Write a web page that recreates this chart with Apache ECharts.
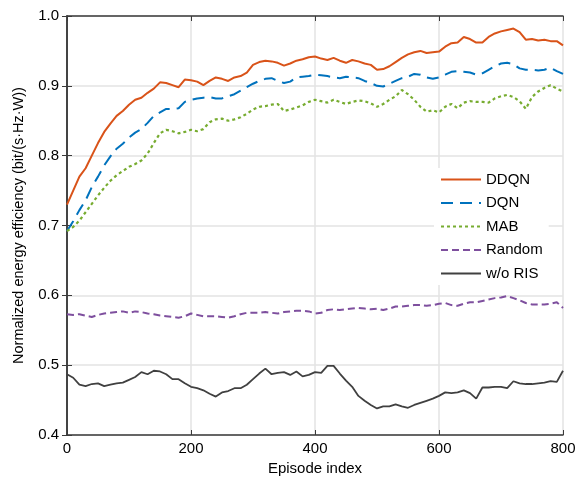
<!DOCTYPE html>
<html lang="en">
<head>
<meta charset="UTF-8">
<title>Energy efficiency</title>
<script src="https://cdn.jsdelivr.net/npm/echarts@6/dist/echarts.min.js"></script>
<style>
  html, body { margin: 0; padding: 0; background: #fff; }
  #container { width: 579px; height: 482px; }
</style>
</head>
<body>
<div id="container"></div>
<script>
// episodes 0..800 every 10
var episodes = [];
for (var i = 0; i <= 80; i++) episodes.push(i * 10);

var ddqn = [0.730,0.750,0.770,0.782,0.800,0.818,0.834,0.846,0.857,0.864,
  0.873,0.880,0.883,0.890,0.896,0.905,0.904,0.901,0.898,0.909,
  0.908,0.906,0.901,0.907,0.912,0.910,0.907,0.912,0.914,0.919,
  0.930,0.934,0.936,0.935,0.933,0.929,0.932,0.936,0.938,0.941,
  0.942,0.939,0.937,0.940,0.936,0.933,0.937,0.935,0.932,0.930,
  0.923,0.924,0.928,0.934,0.940,0.945,0.948,0.950,0.947,0.948,
  0.949,0.956,0.961,0.962,0.970,0.967,0.962,0.962,0.970,0.975,
  0.978,0.980,0.982,0.977,0.966,0.967,0.965,0.966,0.964,0.964,0.958];

var dqn = [0.692,0.706,0.722,0.736,0.755,0.770,0.786,0.799,0.810,0.817,
  0.826,0.833,0.838,0.847,0.857,0.862,0.867,0.867,0.868,0.877,
  0.880,0.882,0.883,0.884,0.882,0.882,0.885,0.888,0.893,0.898,
  0.903,0.907,0.910,0.911,0.907,0.904,0.906,0.912,0.913,0.914,
  0.916,0.915,0.914,0.912,0.911,0.913,0.912,0.911,0.907,0.904,
  0.900,0.899,0.903,0.907,0.911,0.913,0.917,0.916,0.912,0.910,
  0.912,0.916,0.920,0.921,0.920,0.919,0.916,0.918,0.923,0.928,
  0.932,0.933,0.931,0.925,0.923,0.923,0.922,0.923,0.926,0.921,0.917];

var mab = [0.692,0.698,0.707,0.719,0.731,0.743,0.754,0.764,0.772,0.778,
  0.784,0.788,0.793,0.803,0.818,0.832,0.837,0.835,0.832,0.834,
  0.837,0.835,0.838,0.848,0.852,0.853,0.850,0.852,0.855,0.860,
  0.866,0.870,0.871,0.873,0.874,0.864,0.866,0.869,0.872,0.877,
  0.880,0.878,0.876,0.880,0.877,0.874,0.877,0.879,0.878,0.875,
  0.870,0.874,0.880,0.885,0.894,0.888,0.880,0.870,0.863,0.865,
  0.862,0.870,0.874,0.868,0.876,0.878,0.877,0.877,0.876,0.882,
  0.885,0.887,0.884,0.878,0.867,0.884,0.892,0.897,0.901,0.896,0.892];

var randomSel = [0.573,0.572,0.573,0.571,0.569,0.572,0.574,0.575,0.576,0.577,
  0.575,0.577,0.576,0.574,0.573,0.571,0.570,0.569,0.568,0.570,
  0.574,0.572,0.570,0.570,0.570,0.569,0.568,0.570,0.573,0.575,
  0.575,0.575,0.576,0.575,0.574,0.576,0.577,0.578,0.578,0.577,
  0.574,0.575,0.579,0.580,0.579,0.580,0.581,0.582,0.581,0.580,
  0.581,0.579,0.581,0.584,0.584,0.585,0.586,0.586,0.585,0.586,
  0.588,0.589,0.586,0.585,0.588,0.590,0.590,0.592,0.594,0.596,
  0.597,0.599,0.596,0.593,0.589,0.587,0.587,0.587,0.588,0.590,0.582];

var noRis = [0.487,0.482,0.472,0.470,0.473,0.474,0.470,0.472,0.474,0.475,
  0.479,0.483,0.490,0.487,0.492,0.491,0.487,0.480,0.480,0.474,
  0.469,0.467,0.464,0.459,0.455,0.461,0.463,0.467,0.467,0.472,
  0.480,0.488,0.495,0.487,0.489,0.490,0.486,0.491,0.484,0.486,
  0.490,0.489,0.499,0.499,0.488,0.478,0.469,0.456,0.449,0.443,
  0.438,0.441,0.441,0.444,0.441,0.439,0.443,0.446,0.449,0.452,
  0.456,0.461,0.460,0.461,0.464,0.460,0.452,0.468,0.468,0.469,
  0.469,0.467,0.477,0.474,0.473,0.473,0.474,0.475,0.477,0.476,0.492];

var xTicks = [0, 200, 400, 600, 800];
var yTicks = [0.4, 0.5, 0.6, 0.7, 0.8, 0.9, 1.0];

function pairs(vals) {
  var out = [];
  for (var k = 0; k < vals.length; k++) out.push([episodes[k], vals[k]]);
  return out;
}

var font = '"Liberation Sans", Arial, Helvetica, sans-serif';
var axisColor = '#3a3a3a';

var myChart = echarts.init(document.getElementById('container'));

function mkLine(name, vals, color, type, width) {
  return {
    name: name,
    type: 'line',
    symbol: 'none',
    data: pairs(vals),
    lineStyle: { color: color, type: type, width: width },
    itemStyle: { color: color },
    z: 3
  };
}

var option = {
  animation: false,
  backgroundColor: '#fff',
  grid: { left: 67, right: 16, top: 16, bottom: 47 },
  legend: {
    orient: 'vertical',
    left: 434,
    top: 168,
    backgroundColor: '#fff',
    padding: [4, 6, 4, 6],
    itemWidth: 40,
    itemHeight: 12,
    itemGap: 8.5,
    itemStyle: { opacity: 0 },
    textStyle: { fontFamily: font, fontSize: 15, color: '#000' },
    data: ['DDQN', 'DQN', 'MAB', 'Random', 'w/o RIS']
  },
  xAxis: [{
    type: 'value',
    min: xTicks[0],
    max: xTicks[xTicks.length - 1],
    interval: 200,
    name: 'Episode index',
    nameLocation: 'middle',
    nameGap: 25,
    nameTextStyle: { fontFamily: font, fontSize: 15, color: '#000' },
    axisLine: { show: true, lineStyle: { color: axisColor, width: 1.5 } },
    axisTick: { show: true, inside: true, length: 5, lineStyle: { color: axisColor } },
    axisLabel: { fontFamily: font, fontSize: 15, color: '#000', margin: 6 },
    splitLine: { show: true, lineStyle: { color: '#e3e3e3', width: 1.5 } }
  }, {
    type: 'value',
    position: 'top',
    min: 0, max: 800, interval: 200,
    axisLine: { show: true, lineStyle: { color: axisColor, width: 1.5 } },
    axisTick: { show: true, inside: true, length: 5, lineStyle: { color: axisColor } },
    axisLabel: { show: false },
    splitLine: { show: false }
  }],
  yAxis: [{
    type: 'value',
    min: yTicks[0],
    max: yTicks[yTicks.length - 1],
    interval: 0.1,
    name: 'Normalized energy efficiency (bit/(s·Hz·W))',
    nameLocation: 'middle',
    nameGap: 41,
    nameTextStyle: { fontFamily: font, fontSize: 14.5, color: '#000' },
    axisLine: { show: true, lineStyle: { color: axisColor, width: 1.5 } },
    axisTick: { show: true, inside: true, length: 5, lineStyle: { color: axisColor } },
    axisLabel: {
      fontFamily: font, fontSize: 15, color: '#000', margin: 8,
      formatter: function (v) { return v.toFixed(1); }
    },
    splitLine: { show: true, lineStyle: { color: '#e3e3e3', width: 1.5 } }
  }, {
    type: 'value',
    position: 'right',
    min: 0.4, max: 1.0, interval: 0.1,
    axisLine: { show: true, lineStyle: { color: axisColor, width: 1.5 } },
    axisTick: { show: true, inside: true, length: 5, lineStyle: { color: axisColor } },
    axisLabel: { show: false },
    splitLine: { show: false }
  }],
  series: [
    mkLine('DDQN', ddqn, '#D95319', 'solid', 2),
    mkLine('DQN', dqn, '#0072BD', [12, 7], 2),
    mkLine('MAB', mab, '#77AC30', [3, 3], 2.2),
    mkLine('Random', randomSel, '#7E4F9E', [7, 4], 2),
    mkLine('w/o RIS', noRis, '#404040', 'solid', 1.8)
  ]
};

myChart.setOption(option);
</script>
</body>
</html>
